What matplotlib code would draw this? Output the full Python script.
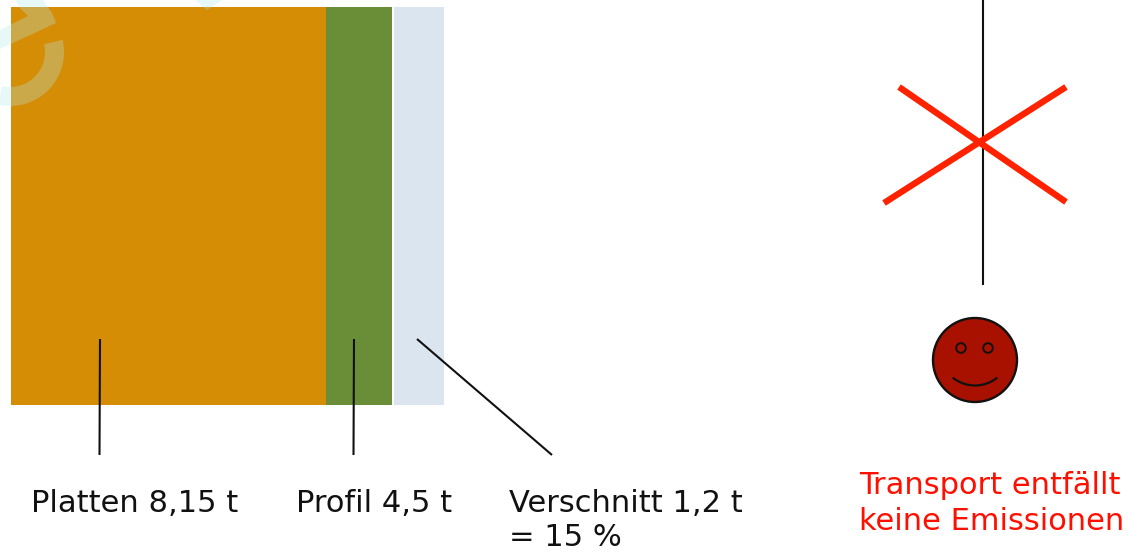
"""Material split bar with callouts, next to the crossed-out transport branch."""
import matplotlib
matplotlib.use("Agg")
import matplotlib.pyplot as plt
import matplotlib.patches as mpatches

W, H = 1129, 552

# bar segments, widths as drawn
segments = ["Platten", "Profil", "Verschnitt"]
seg_widths = [315, 66, 50]
seg_colors = ["#d58d05", "#6a8e37", "#dbe5f0"]
seg_gap = [0, 0.5, 2]

# callout labels
labels = ["Platten 8,15 t", "Profil 4,5 t", "Verschnitt 1,2 t"]
label_x = [31, 296, 509]
share_label = "= 15 %"
red_lines = ["Transport entfällt", "keine Emissionen"]

BAR_LEFT, BAR_TOP, BAR_BOTTOM = 10.5, 7, 405
TEXT_RED = "#ff0f00"
WATERMARK = "#b2ebeb"
FONT_SIZE = 22


def main():
    fig = plt.figure(figsize=(W / 100, H / 100), dpi=100)
    ax = fig.add_axes([0, 0, 1, 1])
    ax.set_xlim(0, W)
    ax.set_ylim(H, 0)
    ax.axis("off")

    # stacked segments
    left = BAR_LEFT
    for width, color, gap in zip(seg_widths, seg_colors, seg_gap):
        left += gap
        ax.barh((BAR_TOP + BAR_BOTTOM) / 2, width, height=BAR_BOTTOM - BAR_TOP,
                left=left, color=color, linewidth=0, zorder=1)
        left += width

    # faint logo shapes over the top-left corner
    logo = dict(facecolor=WATERMARK, edgecolor="none", alpha=0.3, zorder=2)
    ax.add_patch(mpatches.Wedge((10, 52), 54, -13, 103, width=19, **logo))
    ax.add_patch(mpatches.Polygon(
        [(0, 49), (56, 23), (52, 13), (43, 0), (15, 0), (20, 8), (28, 16), (0, 30)],
        closed=True, **logo))
    ax.add_patch(mpatches.Polygon([(195, 0), (222, 0), (207, 10)], closed=True, **logo))

    # leader lines
    leader = dict(color="#111111", lw=1.5, zorder=3, solid_capstyle="butt")
    ax.plot([100, 99.5], [339, 455], **leader)
    ax.plot([354, 353.5], [339, 455], **leader)
    ax.plot([417, 552], [339, 455], **leader)

    for x, text in zip(label_x, labels):
        ax.text(x, 511.5, text, fontsize=FONT_SIZE, color="#111111", ha="left", va="baseline")
    ax.text(label_x[2], 546.5, share_label, fontsize=FONT_SIZE, color="#111111",
            ha="left", va="baseline")

    # transport branch, struck through
    ax.plot([982.5, 982.5], [0, 285], **leader)
    cross = dict(color="#ff2200", lw=4.6, zorder=4, solid_capstyle="butt")
    ax.plot([899, 1066], [87, 202], **cross)
    ax.plot([1066, 884], [87, 203], **cross)

    # smiley
    ax.add_patch(mpatches.Circle((975, 360), 42, facecolor="#a81100",
                                 edgecolor="#111111", lw=1.7, zorder=3))
    for ex in (961, 988):
        ax.add_patch(mpatches.Circle((ex, 348), 4.8, facecolor="none",
                                     edgecolor="#111111", lw=1.4, zorder=4))
    ax.add_patch(mpatches.Arc((975, 350), 71, 71, theta1=51, theta2=129,
                              edgecolor="#111111", lw=1.6, zorder=4))

    ax.text(859, 494, red_lines[0], fontsize=FONT_SIZE, color=TEXT_RED, ha="left", va="baseline")
    ax.text(859, 530, red_lines[1], fontsize=FONT_SIZE, color=TEXT_RED, ha="left", va="baseline")

    fig.savefig("out.png", dpi=100, facecolor="white")
    plt.close(fig)


if __name__ == "__main__":
    main()
